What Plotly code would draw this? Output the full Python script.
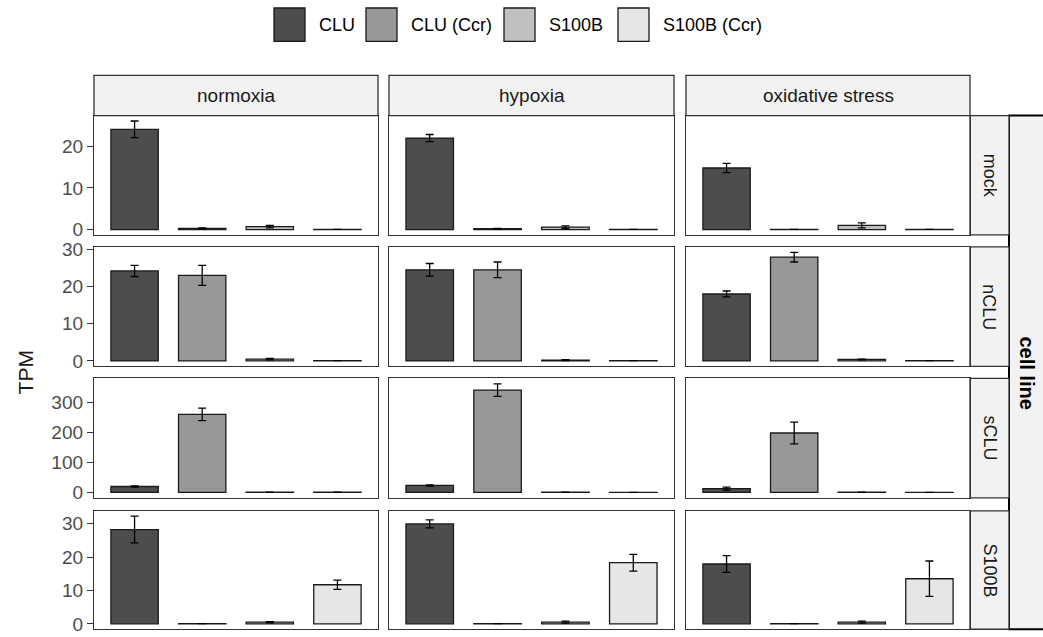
import plotly.graph_objects as go
from plotly.subplots import make_subplots

W, H = 1043, 637

series = ["CLU", "CLU (Ccr)", "S100B", "S100B (Ccr)"]
fill_colors = ["#4d4d4d", "#989898", "#c0c0c0", "#e6e6e6"]
conditions = ["normoxia", "hypoxia", "oxidative stress"]
cell_lines = ["mock", "nCLU", "sCLU", "S100B"]

# mean TPM per condition (rows follow `conditions`, columns follow `series`)
mock_tpm = [[24.1, 0.25, 0.7, 0.05], [22.0, 0.2, 0.6, 0.05], [14.8, 0.05, 1.0, 0.05]]
mock_err = [[2.0, 0.15, 0.3, 0.0], [0.85, 0.1, 0.3, 0.0], [1.1, 0.0, 0.6, 0.0]]

nclu_tpm = [[24.2, 23.0, 0.5, 0.05], [24.5, 24.5, 0.2, 0.05], [18.0, 27.9, 0.4, 0.05]]
nclu_err = [[1.5, 2.7, 0.2, 0.0], [1.7, 2.1, 0.15, 0.0], [0.8, 1.3, 0.1, 0.0]]

sclu_tpm = [[19.5, 260.0, 0.5, 0.3], [23.0, 341.0, 0.4, 0.2], [12.6, 198.0, 0.3, 0.2]]
sclu_err = [[2.0, 21.0, 0.0, 0.0], [2.0, 21.0, 0.0, 0.0], [5.0, 36.0, 0.0, 0.0]]

s100b_tpm = [[28.2, 0.05, 0.5, 11.7], [29.9, 0.05, 0.5, 18.3], [17.9, 0.05, 0.5, 13.5]]
s100b_err = [[4.0, 0.0, 0.2, 1.4], [1.2, 0.0, 0.3, 2.5], [2.5, 0.0, 0.3, 5.3]]

row_means = [mock_tpm, nclu_tpm, sclu_tpm, s100b_tpm]
row_errs = [mock_err, nclu_err, sclu_err, s100b_err]
row_ticks = [[0, 10, 20], [0, 10, 20, 30], [0, 100, 200, 300], [0, 10, 20, 30]]

# panel geometry in figure pixels (from the top-left corner)
col_px = [(94, 378), (389, 674), (686, 970)]
row_px = [(109.8, 231.7), (243.9, 365.8), (378.1, 500.0), (513.3, 634.2)]
strip_top = (68.8, 109.8)
row_strip_x = (970, 1009)
outer_strip_x = (1009, 1060)
key_x = [274, 366, 504, 618]
key_w, key_y = 31, (0, 34)


def px_x(x):
    return x / W


def px_y(y):
    return 1 - y / H


fig = make_subplots(rows=4, cols=3)

line_col = "#333333"
font_family = "Liberation Sans, Arial"
for r in range(4):
    means, errs = row_means[r], row_errs[r]
    top = max(m + e for cond_m, cond_e in zip(means, errs) for m, e in zip(cond_m, cond_e))
    pad = 0.05 * top
    yrange = [-pad, top + pad]
    for c in range(3):
        fig.add_trace(
            go.Bar(
                x=series,
                y=means[c],
                width=0.7,
                marker=dict(color=fill_colors, line=dict(color="#1a1a1a", width=1.3)),
                error_y=dict(type="data", array=errs[c], visible=True,
                             color="black", thickness=1.3, width=4),
                showlegend=False,
                hoverinfo="skip",
            ),
            row=r + 1, col=c + 1,
        )
        idx = r * 3 + c + 1
        xa = "xaxis" if idx == 1 else f"xaxis{idx}"
        ya = "yaxis" if idx == 1 else f"yaxis{idx}"
        fig.layout[xa].update(
            domain=[px_x(col_px[c][0]), px_x(col_px[c][1])],
            type="category", categoryorder="array", categoryarray=series,
            range=[-0.6, 3.6], showticklabels=False, ticks="",
            showgrid=False, zeroline=False, fixedrange=True,
            showline=True, mirror=True, linecolor=line_col, linewidth=1.3,
        )
        fig.layout[ya].update(
            domain=[px_y(row_px[r][1]), px_y(row_px[r][0])],
            range=yrange, tickvals=row_ticks[r],
            ticktext=[str(t) for t in row_ticks[r]],
            showticklabels=(c == 0),
            ticks="outside" if c == 0 else "", ticklen=6, tickwidth=1.3,
            tickcolor=line_col,
            tickfont=dict(size=19, color="#4d4d4d", family=font_family),
            showgrid=False, zeroline=False, fixedrange=True,
            showline=True, mirror=True, linecolor=line_col, linewidth=1.3,
        )

shapes = []
annotations = []
strip_fill = "#f2f2f2"

# column strips
for c, name in enumerate(conditions):
    x0, x1 = col_px[c]
    shapes.append(dict(type="rect", xref="paper", yref="paper",
                       x0=px_x(x0), x1=px_x(x1), y0=px_y(strip_top[1]), y1=px_y(strip_top[0]),
                       fillcolor=strip_fill, line=dict(color=line_col, width=1.3), layer="below"))
    annotations.append(dict(text=name, xref="paper", yref="paper",
                            x=px_x((x0 + x1) / 2), y=px_y(sum(strip_top) / 2),
                            showarrow=False, xanchor="center", yanchor="middle",
                            font=dict(size=19, color="#1a1a1a", family=font_family)))

# outer strip for the row variable
shapes.append(dict(type="rect", xref="paper", yref="paper",
                   x0=px_x(outer_strip_x[0]), x1=px_x(outer_strip_x[1]),
                   y0=px_y(row_px[-1][1]), y1=px_y(row_px[0][0]),
                   fillcolor=strip_fill, line=dict(color="black", width=2), layer="below"))
annotations.append(dict(text="<b>cell line</b>", xref="paper", yref="paper",
                        x=px_x(1027), y=px_y((row_px[0][0] + row_px[-1][1]) / 2),
                        showarrow=False, textangle=90, xanchor="center", yanchor="middle",
                        font=dict(size=20, color="black", family=font_family)))

# row strips
for r, name in enumerate(cell_lines):
    y0, y1 = row_px[r]
    shapes.append(dict(type="rect", xref="paper", yref="paper",
                       x0=px_x(row_strip_x[0]), x1=px_x(row_strip_x[1]),
                       y0=px_y(y1), y1=px_y(y0),
                       fillcolor=strip_fill, line=dict(color=line_col, width=1.3), layer="below"))
    annotations.append(dict(text=name, xref="paper", yref="paper",
                            x=px_x(sum(row_strip_x) / 2), y=px_y((y0 + y1) / 2),
                            showarrow=False, textangle=90, xanchor="center", yanchor="middle",
                            font=dict(size=18, color="#1a1a1a", family=font_family)))

# y-axis title
annotations.append(dict(text="TPM", xref="paper", yref="paper",
                        x=px_x(25), y=px_y((row_px[0][0] + row_px[-1][1]) / 2),
                        showarrow=False, textangle=-90, xanchor="center", yanchor="middle",
                        font=dict(size=21, color="#1a1a1a", family=font_family)))

# legend keys along the top
for name, col, kx in zip(series, fill_colors, key_x):
    shapes.append(dict(type="rect", xref="paper", yref="paper",
                       x0=px_x(kx), x1=px_x(kx + key_w), y0=px_y(key_y[1]), y1=px_y(key_y[0]),
                       fillcolor=col, line=dict(color="#1a1a1a", width=1.3)))
    annotations.append(dict(text=name, xref="paper", yref="paper",
                            x=px_x(kx + key_w + 12), y=px_y(sum(key_y) / 2),
                            showarrow=False, xanchor="left", yanchor="middle",
                            font=dict(size=18, color="black", family=font_family)))

fig.update_layout(
    width=W, height=H,
    margin=dict(l=0, r=0, t=0, b=0),
    paper_bgcolor="white", plot_bgcolor="white",
    shapes=shapes, annotations=annotations,
    showlegend=False,
)

fig.write_html("out.html", config={"displayModeBar": False})
